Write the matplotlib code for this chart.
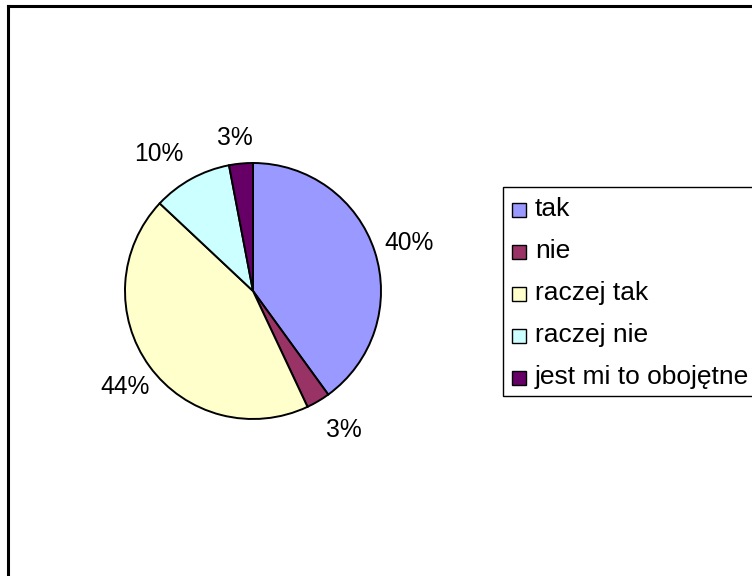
import matplotlib
matplotlib.use("Agg")
import numpy as np
import matplotlib.pyplot as plt
from matplotlib.patches import Rectangle
from matplotlib.lines import Line2D

categories = ["tak", "nie", "raczej tak", "raczej nie", "jest mi to obojętne"]
values = [40, 3, 44, 10, 3]
colors = ["#9999FF", "#993366", "#FFFFCC", "#CCFFFF", "#660066"]

# label placement style (radial distance, angular shift in degrees)
label_dist = [1.28, 1.285, 1.24, 1.31, 1.22]
label_shift = [-0.2, 3.0, 0.3, 5.3, 1.2]

W, H = 752, 576
plt.rcParams['font.family'] = ['Liberation Sans', 'DejaVu Sans']
fig = plt.figure(figsize=(W / 100, H / 100), dpi=100)

def fx(px):
    return px / W

def fy(py):
    return 1 - py / H

# pie
cx, cy, r = 253, 291, 128
ax = fig.add_axes([fx(cx - r), fy(cy + r), 2 * r / W, 2 * r / H])
wedges, texts = ax.pie(
    values, colors=colors, startangle=90, counterclock=False,
    wedgeprops=dict(edgecolor='black', linewidth=1.4))
ax.set_xlim(-1, 1)
ax.set_ylim(-1, 1)
ax.set_aspect('equal')

lab_fs = 17.7
cap_half = 0.716 * lab_fs * 100 / 72 / 2 / r
total = sum(values)
for w, v, d, s in zip(wedges, values, label_dist, label_shift):
    ang = np.deg2rad((w.theta1 + w.theta2) / 2 + s)
    x, y = d * np.cos(ang), d * np.sin(ang)
    ax.text(x, y - cap_half, f"{100 * v / total:.0f}%", fontsize=lab_fs,
            ha='center', va='baseline', clip_on=False)

# outer frame (left and top edges visible)
fig.add_artist(Line2D([fx(8), fx(8)], [0, fy(6)], color='black', lw=2.2, transform=fig.transFigure))
fig.add_artist(Line2D([fx(8), 1], [fy(6), fy(6)], color='black', lw=2.2, transform=fig.transFigure))

# legend box
lx, ltop, lbot = 503, 187, 396
fig.add_artist(Rectangle((fx(lx), fy(lbot)), fx(W + 20 - lx), (lbot - ltop) / H,
                         facecolor='white', edgecolor='black', lw=1.0,
                         transform=fig.transFigure))
y0, dy = 210, 42
for i, (lab, col) in enumerate(zip(categories, colors)):
    yc = y0 + i * dy
    fig.add_artist(Rectangle((fx(512), fy(yc + 7)), 14 / W, 14 / H,
                             facecolor=col, edgecolor='black', lw=1.0,
                             transform=fig.transFigure))
    fig.text(fx(535), fy(yc + 6), lab, fontsize=19, va='baseline', ha='left')

fig.savefig("out.png", dpi=100)
